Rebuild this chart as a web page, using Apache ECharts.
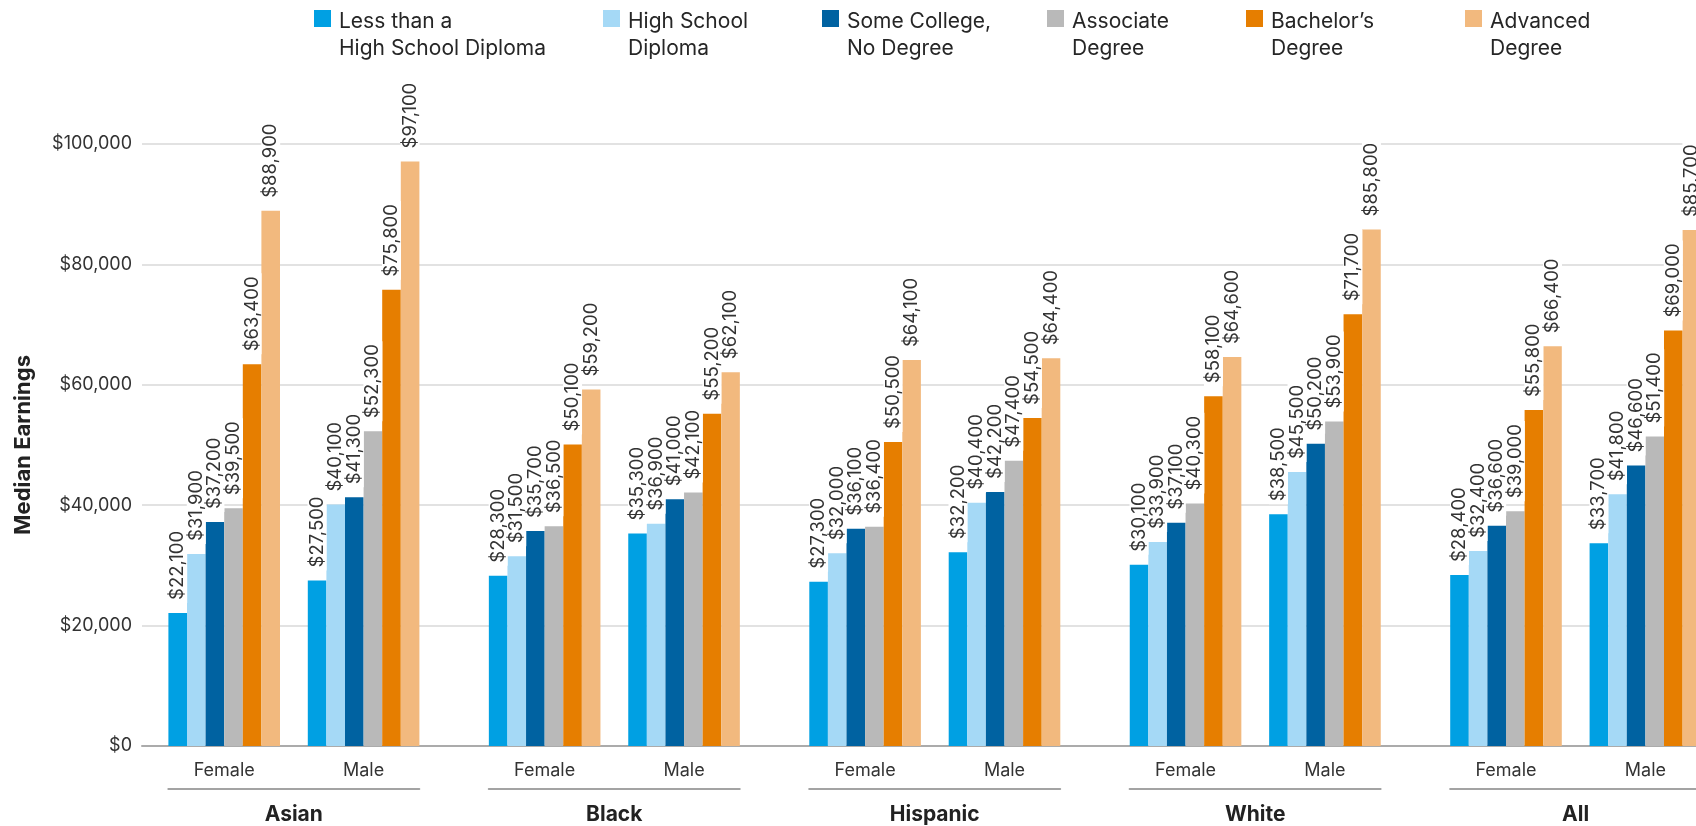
<!DOCTYPE html>
<html><head><meta charset="utf-8">
<script src="https://cdn.jsdelivr.net/npm/echarts@6/dist/echarts.min.js"></script>
<style>html,body{margin:0;padding:0;background:#fff}#c{width:1696px;height:826px}</style>
</head><body><div id="c"></div>
<script>
// ---- data ----
const groups = ['Asian', 'Black', 'Hispanic', 'White', 'All'];
const sexes = ['Female', 'Male'];
const seriesNames = ['Less than a\nHigh School Diploma', 'High School\nDiploma', 'Some College,\nNo Degree', 'Associate\nDegree', 'Bachelor’s\nDegree', 'Advanced\nDegree'];
// order: Asian F, Asian M, Black F, Black M, Hispanic F, Hispanic M, White F, White M, All F, All M
const lessThanHS  = [22100, 27500, 28300, 35300, 27300, 32200, 30100, 38500, 28400, 33700];
const highSchool  = [31900, 40100, 31500, 36900, 32000, 40400, 33900, 45500, 32400, 41800];
const someCollege = [37200, 41300, 35700, 41000, 36100, 42200, 37100, 50200, 36600, 46600];
const associate   = [39500, 52300, 36500, 42100, 36400, 47400, 40300, 53900, 39000, 51400];
const bachelors   = [63400, 75800, 50100, 55200, 50500, 54500, 58100, 71700, 55800, 69000];
const advanced    = [88900, 97100, 59200, 62100, 64100, 64400, 64600, 85800, 66400, 85700];
const yTicks = [0, 20000, 40000, 60000, 80000, 100000];
const yAxisTitle = 'Median Earnings';

// ---- style / layout ----
const allValues = [lessThanHS, highSchool, someCollege, associate, bachelors, advanced];
const colors = ['#00a0e3', '#a5d9f6', '#0062a1', '#b9b9b9', '#e67e00', '#f2b97e'];
const FONT = 'Inter, "Noto Sans", sans-serif';
const TXT = '#262626';
const W = 1696;
const plotTop = 144, plotBottom = 80;
const barGridLeft0 = 154.5, groupStride = 320.45, barGridWidth = 278.8;
const bracketLeft0 = 168.3, bracketWidth = 251;
const legendLefts = [309, 598, 817, 1042, 1241, 1460];
const fmt = v => '$' + v.toLocaleString('en-US');
const yMin = yTicks[0], yMax = yTicks[yTicks.length - 1], yInt = yTicks[1] - yTicks[0];

const grid = [{ left: 142, right: 0, top: plotTop, bottom: plotBottom, outerBoundsMode: 'none' }];
const xAxis = [{
  gridIndex: 0, type: 'category', data: [''],
  axisLine: { show: true, lineStyle: { color: '#ababab', width: 2 } },
  axisTick: { show: false }, axisLabel: { show: false }
}];
const yAxis = [{
  gridIndex: 0, type: 'value', min: yMin, max: yMax, interval: yInt,
  name: yAxisTitle, nameLocation: 'middle', nameRotate: 90, nameGap: 108,
  nameTextStyle: { fontFamily: FONT, fontSize: 22, fontWeight: 'bold', color: '#222' },
  axisLine: { show: false }, axisTick: { show: false },
  axisLabel: { formatter: fmt, fontFamily: FONT, fontSize: 18, color: '#333', margin: 10 },
  splitLine: { lineStyle: { color: '#d8d8d8', width: 1.5 } }
}];

groups.forEach((g, i) => {
  const l = barGridLeft0 + groupStride * i;
  grid.push({ left: l, right: W - l - barGridWidth, top: plotTop, bottom: plotBottom, outerBoundsMode: 'none' });
  xAxis.push({
    gridIndex: 1 + i, type: 'category', data: sexes,
    axisLine: { show: false }, axisTick: { show: false },
    axisLabel: { fontFamily: FONT, fontSize: 18, color: '#333', margin: 16 }
  });
  yAxis.push({ gridIndex: 1 + i, type: 'value', min: yMin, max: yMax, interval: yInt, show: false, splitLine: { show: false } });
});
groups.forEach((g, i) => {
  const l = bracketLeft0 + groupStride * i;
  grid.push({ left: l, right: W - l - bracketWidth, top: 788, height: 1, outerBoundsMode: 'none' });
  xAxis.push({
    gridIndex: 6 + i, type: 'category', data: [g],
    axisLine: { show: true, lineStyle: { color: '#a3a3a3', width: 2 } }, axisTick: { show: false },
    axisLabel: { fontFamily: FONT, fontSize: 21, fontWeight: 'bold', color: '#222', margin: 15 }
  });
  yAxis.push({ gridIndex: 6 + i, type: 'value', show: false, splitLine: { show: false } });
});

const series = [];
seriesNames.forEach((name, s) => {
  groups.forEach((g, i) => {
    series.push({
      type: 'bar', name: name, xAxisIndex: 1 + i, yAxisIndex: 1 + i,
      data: allValues[s].slice(2 * i, 2 * i + 2),
      barWidth: 18.6, barGap: '0%', clip: false,
      itemStyle: { color: colors[s] },
      label: {
        show: true, position: 'top', rotate: 90, align: 'left', verticalAlign: 'middle',
        distance: 10, formatter: p => fmt(p.value),
        fontFamily: FONT, fontSize: 18.5, lineHeight: 19, color: '#333',
        backgroundColor: '#fff', padding: [0, 3, 0, 3]
      }
    });
  });
});

const legendIcon = 'path://M0,0L17,0L17,17L0,17Z M0,50L17,50';
const legend = seriesNames.map((n, k) => ({
  data: [n], left: legendLefts[k], top: 3, selectedMode: false,
  icon: legendIcon, itemWidth: 17, itemHeight: 50, itemStyle: { borderWidth: 0 },
  textStyle: { fontFamily: FONT, fontSize: 21, lineHeight: 27, color: TXT, padding: [0, 0, 0, 3] }
}));

const chart = echarts.init(document.getElementById('c'), null, { renderer: 'canvas' });
chart.setOption({
  animation: false, backgroundColor: '#fff', color: colors,
  grid, xAxis, yAxis, legend, series
});
</script></body></html>
